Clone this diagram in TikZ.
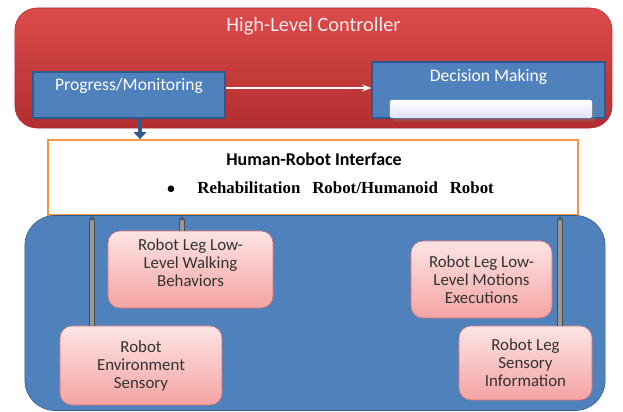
\documentclass[tikz,border=0pt]{standalone}
\usepackage{fontspec}
\setmainfont{Carlito}
\newfontfamily\serifbf{Liberation Serif}
\usetikzlibrary{arrows.meta, positioning, shadows}

\definecolor{ctrlred}{HTML}{C93A3C}
\definecolor{ctrlredtop}{HTML}{DC4B4B}
\definecolor{ctrlredbot}{HTML}{B22E30}
\definecolor{modblue}{HTML}{4F81BD}
\definecolor{modblueedge}{HTML}{2F5A8E}
\definecolor{hriorange}{HTML}{F79646}
\definecolor{pinktop}{HTML}{FDE4E4}
\definecolor{pinkbot}{HTML}{F5A3A3}
\definecolor{pinkedge}{HTML}{D07070}

\begin{document}
\begin{tikzpicture}[x=0.025cm, y=-0.025cm,
  controller/.style={rectangle, rounded corners=0.55cm, draw=ctrlredbot, top color=ctrlredtop, bottom color=ctrlredbot, minimum width=14.925cm, minimum height=3cm},
  module/.style={rectangle, draw=modblueedge, line width=0.8pt, fill=modblue, text=white, font=\fontsize{12.5}{14}\selectfont, align=center},
  interface/.style={rectangle, draw=hriorange, line width=1.2pt, fill=white, minimum width=13.25cm, minimum height=1.875cm},
  lowlevel/.style={rectangle, rounded corners=0.75cm, draw=modblueedge, fill=modblue, minimum width=14.5cm, minimum height=4.875cm},
  task/.style={rectangle, rounded corners=0.3cm, draw=pinkedge, top color=pinktop, bottom color=pinkbot, text=black!80, font=\fontsize{12}{12.8}\selectfont, align=center},
  link/.style={draw=black!70, double=black!40, double distance=2.2pt, line width=0.7pt, -{Latex[open, length=3pt, width=5pt]}},
  arrow/.style={->, >=Stealth}]
  \useasboundingbox (0,0) rectangle (623,412);

  % Nodes
  \node (ctrl) [controller] at (313.5,68) {};
  \node [text=white!92!red, font=\fontsize{14.5}{16}\selectfont] at (313.5,26) {High-Level Controller};
  \node (progress) [module, minimum width=4.8cm, minimum height=1.15cm] at (129,95) {Progress/Monitoring\\[1pt]\mbox{}};
  \node (decision) [module, minimum width=5.825cm, minimum height=1.4cm, text depth=0.72cm] at (488.5,90) {Decision Making};
  \node (bar) [rectangle, rounded corners=1pt, minimum width=5.05cm, minimum height=0.45cm, top color=white, bottom color=blue!12, drop shadow={opacity=0.35}] at (491,109) {};

  \node (hri) [interface] at (313,177.5) {};
  \node [font=\bfseries\fontsize{12.8}{14}\selectfont] at (314,159) {Human-Robot Interface};
  \node [font=\serifbf\bfseries\fontsize{12}{14}\selectfont, anchor=west] at (162,188) {$\bullet$\hspace{1.3em}Rehabilitation\hspace{0.7em}Robot/Humanoid\hspace{0.7em}Robot};

  \node (robot) [lowlevel] at (315,313) {};
  \node (walking) [task, minimum width=4.125cm, minimum height=1.925cm] at (190.5,269.5) {Robot Leg Low-\\Level Walking\\Behaviors\\[-3pt]\mbox{}};
  \node (envsensory) [task, minimum width=4.05cm, minimum height=1.975cm] at (141,365.5) {Robot\\Environment\\Sensory};
  \node (motions) [task, minimum width=3.525cm, minimum height=1.925cm] at (481.5,279.5) {Robot Leg Low-\\Level Motions\\Executions};
  \node (legsensory) [task, minimum width=3.325cm, minimum height=1.85cm] at (525.5,363) {Robot Leg\\Sensory\\Information};

  % Arrows
  \draw [arrow, white, line width=0.8pt] (progress.east |- 0,88) -- (decision.west |- 0,88);
  \draw [-{Triangle[length=5pt, width=9pt]}, modblueedge, line width=3pt] (progress.south -| 140,0) -- (hri.north -| 140,0);
  \draw [link] (envsensory.north -| 92,0) -- (hri.south -| 92,0);
  \draw [link] (walking.north -| 182,0) -- (hri.south -| 182,0);
  \draw [link] (legsensory.north -| 560,0) -- (hri.south -| 560,0);

\end{tikzpicture}
\end{document}
